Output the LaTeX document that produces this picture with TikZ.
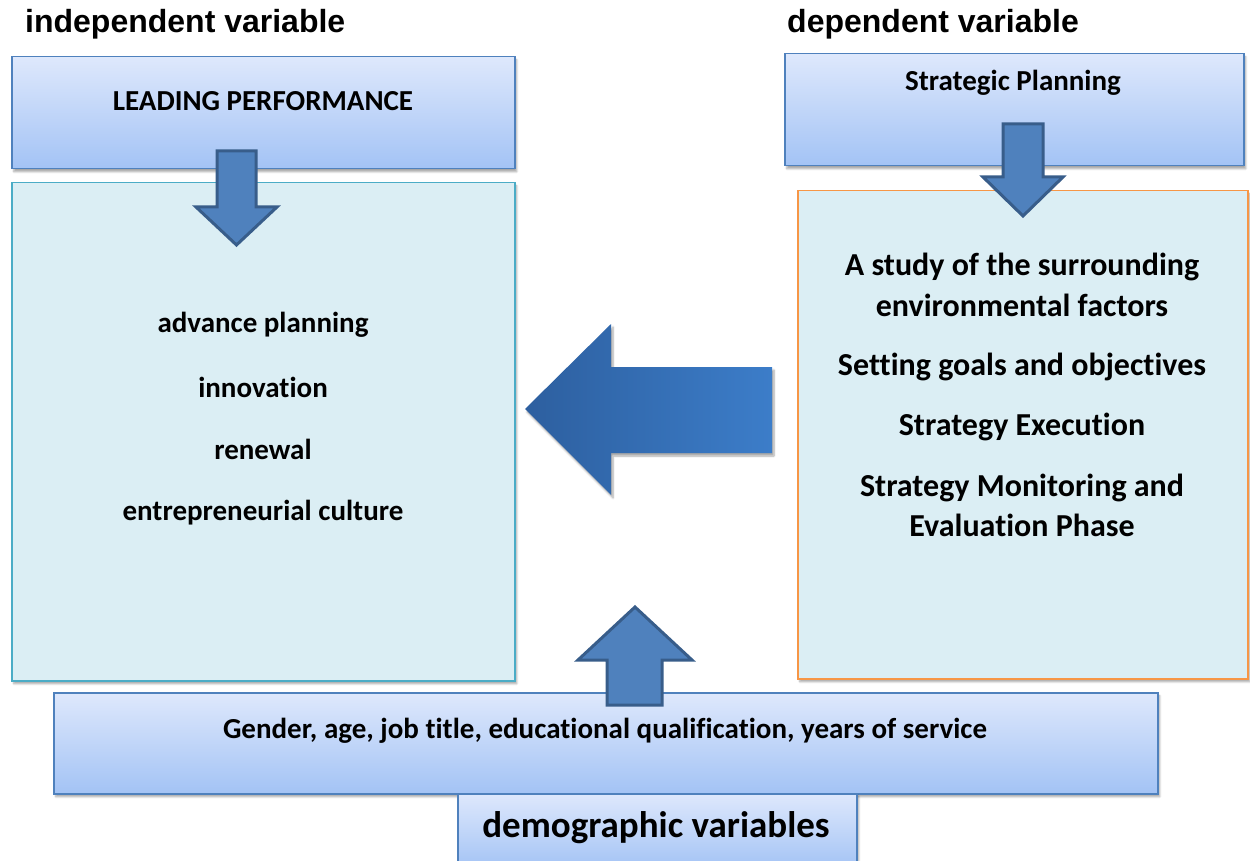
\documentclass[tikz,border=0pt]{standalone}
\usepackage{fontspec}
\setmainfont{Carlito}[Ligatures=CommonOff]
\newfontfamily\arialb{Liberation Sans}
\usetikzlibrary{shadows.blur}
\definecolor{bluebd}{HTML}{4F81BD}
\definecolor{gradtop}{HTML}{DEE8FC}
\definecolor{gradbot}{HTML}{A3C3F5}
\definecolor{contentfill}{HTML}{DBEEF4}
\definecolor{tealbd}{HTML}{4BACC6}
\definecolor{orangebd}{HTML}{F79646}
\definecolor{arrowfill}{HTML}{4F81BD}
\definecolor{arrowbd}{HTML}{385D8A}
\definecolor{bigleft}{HTML}{2D5F9F}
\definecolor{bigright}{HTML}{3C7DC9}
\tikzset{
  gradbox/.style={draw=bluebd, line width=1.5pt, top color=gradtop, bottom color=gradbot,
    anchor=north west, inner sep=0pt,
    blur shadow={shadow xshift=2pt, shadow yshift=-3pt, shadow blur steps=6, shadow opacity=35}},
  contentbox/.style={draw=#1, line width=1.5pt, fill=contentfill, anchor=north west, inner sep=0pt,
    blur shadow={shadow xshift=2pt, shadow yshift=-3pt, shadow blur steps=6, shadow opacity=35}},
  blockarrow/.style={draw=arrowbd, line width=3pt, fill=arrowfill, line join=miter},
  heading/.style={font=\arialb\bfseries\fontsize{32}{38}\selectfont, anchor=base west, inner sep=0pt},
  txt/.style={font=\bfseries\fontsize{29}{35}\selectfont, inner sep=0pt},
  rtxt/.style={font=\bfseries\fontsize{32}{38}\selectfont, inner sep=0pt},
}
\begin{document}
\begin{tikzpicture}[x=1pt,y=-1pt]
\useasboundingbox (0,0) rectangle (1250,861);

% headings
\node[heading] (indep) at (25,33) {independent variable};
\node[heading] (dep) at (787,33) {dependent variable};

% left column
\node[gradbox, minimum width=503pt, minimum height=112pt] (lp) at (11,56) {};
\node[txt] (lptxt) at (263,101) {LEADING PERFORMANCE};
\node[contentbox=tealbd, minimum width=503pt, minimum height=498pt] (left) at (11,182) {};
\draw[blockarrow] (217,151) -- (256,151) -- (256,207) -- (277,207) -- (236.5,245) -- (196,207) -- (217,207) -- cycle;
\node[txt] (t1) at (263,325) {advance planning};
\node[txt] (t2) at (263,387) {innovation};
\node[txt] (t3) at (263,449) {renewal};
\node[txt] (t4) at (263,513) {entrepreneurial culture};

% right column
\node[gradbox, minimum width=459pt, minimum height=112pt] (sp) at (784,53) {};
\node[txt] (sptxt) at (1013,83) {Strategic Planning};
\node[contentbox=orangebd, minimum width=450pt, minimum height=488pt] (right) at (797,190) {};
\draw[blockarrow] (1003,124) -- (1043,124) -- (1043,177) -- (1063,177) -- (1023,216) -- (983,177) -- (1003,177) -- cycle;
\node[rtxt] (r1) at (1022,267) {A study of the surrounding};
\node[rtxt] (r2) at (1022,305) {environmental factors};
\node[rtxt] (r3) at (1022,367) {Setting goals and objectives};
\node[rtxt] (r4) at (1022,427) {Strategy Execution};
\node[rtxt] (r5) at (1022,488) {Strategy Monitoring and};
\node[rtxt] (r6) at (1022,525) {Evaluation Phase};

% big left arrow
\shade[left color=bigleft, right color=bigright,
  blur shadow={shadow xshift=2pt, shadow yshift=-3pt, shadow blur steps=6, shadow opacity=35}]
  (525,409) -- (611,324) -- (611,367) -- (772,367) -- (772,453) -- (611,453) -- (611,495) -- cycle;

% bottom
\node[gradbox, minimum width=1104pt, minimum height=101pt] (gender) at (53,692) {};
\node[txt] (gtxt) at (605,731) {Gender, age, job title, educational qualification, years of service};
\node[gradbox, minimum width=399pt, minimum height=75pt] (demo) at (457,793) {};
\node[txt, font=\bfseries\fontsize{37}{44}\selectfont] (dtxt) at (656,828) {demographic variables};
\draw[blockarrow] (635,607) -- (692,660) -- (662,660) -- (662,705) -- (607,705) -- (607,660) -- (578,660) -- cycle;
\end{tikzpicture}
\end{document}
